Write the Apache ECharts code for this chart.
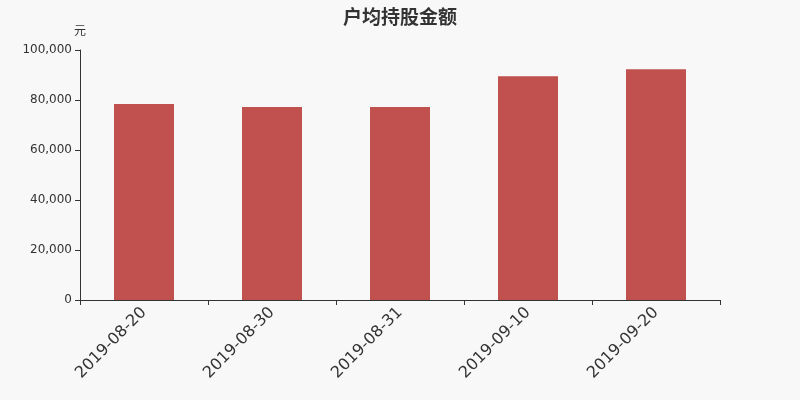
<!DOCTYPE html>
<html>
<head>
    <meta charset="utf-8">
    <title>户均持股金额</title>
    <script src="https://cdn.jsdelivr.net/npm/echarts@6/dist/echarts.min.js"></script>
    <style>
        html, body { margin: 0; padding: 0; background: #f8f8f8; }
        #mychart { width: 800px; height: 400px; }
    </style>
</head>
<body>
<div id="mychart"></div>
<script>
    var dates = ['2019-08-20', '2019-08-30', '2019-08-31', '2019-09-10', '2019-09-20'];
    var amounts = [78400, 77200, 77200, 89500, 92300];
    var yTicks = [0, 20000, 40000, 60000, 80000, 100000];

    var myChart = echarts.init(document.getElementById('mychart'));
    var option = {
        backgroundColor: '#f8f8f8',
        animation: false,
        title: {
            text: '户均持股金额',
            left: 'center',
            top: 2,
            textStyle: { fontSize: 19, fontWeight: 'bold', color: '#333',
                fontFamily: 'Noto Sans CJK SC' }
        },
        grid: { left: 80, right: 80, top: 50, bottom: 100 },
        xAxis: {
            type: 'category',
            data: dates,
            axisLine: { lineStyle: { color: '#333' } },
            axisTick: { show: true, alignWithLabel: false },
            axisLabel: { rotate: 45, fontSize: 16, color: '#333', margin: 10,
                fontFamily: 'DejaVu Sans' }
        },
        yAxis: {
            type: 'value',
            name: '元',
            nameGap: 14,
            nameTextStyle: { color: '#333', fontSize: 12, align: 'center',
                fontFamily: 'Noto Sans CJK SC' },
            min: yTicks[0],
            max: yTicks[yTicks.length - 1],
            interval: 20000,
            axisLine: { show: true, lineStyle: { color: '#333' } },
            axisTick: { show: true },
            splitLine: { show: false },
            axisLabel: {
                color: '#333', fontSize: 12, fontFamily: 'DejaVu Sans',
                formatter: function (v) { return v.toLocaleString('en-US'); }
            }
        },
        series: [{
            name: '户均持股金额',
            type: 'bar',
            barWidth: 60,
            itemStyle: { color: '#c1514e' },
            data: amounts
        }]
    };
    myChart.setOption(option);
</script>
</body>
</html>
